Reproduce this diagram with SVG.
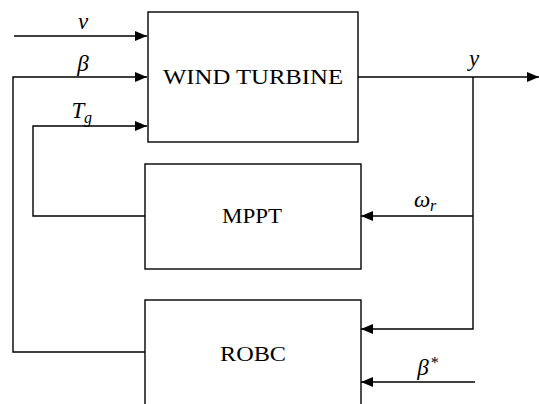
<svg xmlns="http://www.w3.org/2000/svg" width="539" height="404" viewBox="0 0 539 404">
<style>
.box{fill:#fff;stroke:#000;stroke-width:1.4}
.ln{fill:none;stroke:#000;stroke-width:1.4}
.t{font-family:"Liberation Serif",serif;font-size:21px;fill:#000;text-anchor:middle}
.m{font-family:"Liberation Serif",serif;font-style:italic;font-size:23px;fill:#000;text-anchor:middle}
.s{font-family:"Liberation Serif",serif;font-style:italic;font-size:16px;fill:#000}
</style>
<defs>
<marker id="ah" viewBox="0 0 12 10" refX="12" refY="5" markerWidth="12" markerHeight="10" markerUnits="userSpaceOnUse" orient="auto">
<path d="M0,0 L12,5 L0,10 z" fill="#000"/>
</marker>
</defs>
<g id="wt"><rect class="box" x="148" y="12" width="210" height="130"/><text class="t" x="253" y="84" textLength="180" lengthAdjust="spacingAndGlyphs">WIND TURBINE</text></g>
<g id="mppt"><rect class="box" x="145" y="164" width="216" height="105"/><text class="t" x="252" y="223" textLength="60" lengthAdjust="spacingAndGlyphs">MPPT</text></g>
<g id="robc"><rect class="box" x="145" y="300" width="216" height="110"/><text class="t" x="253" y="361" textLength="66" lengthAdjust="spacingAndGlyphs">ROBC</text></g>
<g id="connectors">
<path class="ln" d="M14,36 H147" marker-end="url(#ah)"/>
<path class="ln" d="M145,352 H13 V77 H147" marker-end="url(#ah)"/>
<path class="ln" d="M145,216 H33 V126 H147" marker-end="url(#ah)"/>
<path class="ln" d="M358,77 H539" marker-end="url(#ah)"/>
<path class="ln" d="M473,77 V329 H361" marker-end="url(#ah)"/>
<path class="ln" d="M473,216 H361" marker-end="url(#ah)"/>
<path class="ln" d="M475,382 H361" marker-end="url(#ah)"/>
</g>
<g id="labels">
<text class="m" x="83" y="29">v</text>
<text class="m" x="83" y="71">β</text>
<text class="m" x="78" y="118">T</text><text class="s" x="84" y="123">g</text>
<text class="m" x="474" y="66">y</text>
<text class="m" x="422" y="207">ω</text><text class="s" x="430" y="211">r</text>
<text class="m" x="423" y="375">β</text><text class="s" x="430" y="368">*</text>
</g>
</svg>
